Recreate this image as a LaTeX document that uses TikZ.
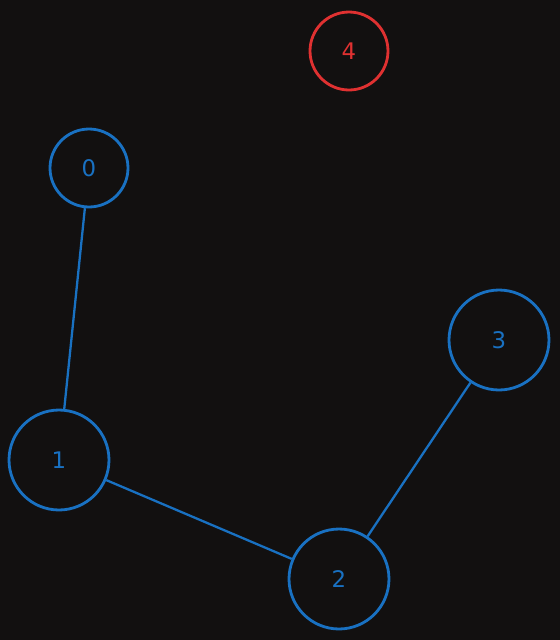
\documentclass[tikz,border=0pt]{standalone}
\usepackage{tikz}
\usetikzlibrary{positioning}
\usepackage{fontspec}
\setsansfont{DejaVu Sans}
\definecolor{bgdark}{RGB}{18,16,16}
\definecolor{sketchblue}{RGB}{25,113,194}
\definecolor{sketchred}{RGB}{224,49,49}

\begin{document}
\begin{tikzpicture}[
    x=0.02cm, y=-0.02cm,
    vert/.style={circle, draw=sketchblue, line width=1.6pt, text=sketchblue, inner sep=0pt, font=\sffamily\fontsize{13}{15}\selectfont},
    smallvert/.style={vert, minimum size=1.56cm},
    bigvert/.style={vert, minimum size=2cm},
    isovert/.style={vert, minimum size=1.56cm, draw=sketchred, text=sketchred},
    link/.style={draw=sketchblue, line width=1.3pt}
]
    % Background
    \fill[bgdark] (0,0) rectangle (560,640);
    \useasboundingbox (0,0) rectangle (560,640);

    % Vertices
    \node[smallvert] (n0) at (89,168) {0};
    \node[bigvert] (n1) at (59,460) {1};
    \node[bigvert] (n2) at (339,579) {2};
    \node[bigvert] (n3) at (499,340) {3};
    \node[isovert] (n4) at (349,51) {4};

    % Edges
    \draw[link] (n0) -- (n1);
    \draw[link] (n1) -- (n2);
    \draw[link] (n2) -- (n3);
\end{tikzpicture}
\end{document}
